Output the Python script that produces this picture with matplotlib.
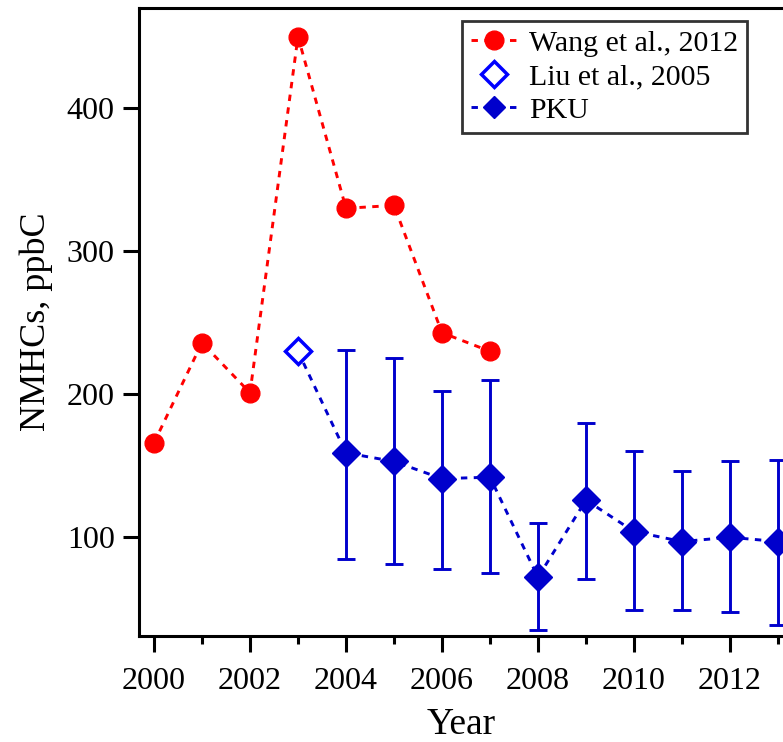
import matplotlib
matplotlib.use("Agg")
import matplotlib.pyplot as plt
from matplotlib.ticker import MultipleLocator

# Wang et al., 2012
wang_years = [2000, 2001, 2002, 2003, 2004, 2005, 2006, 2007]
wang_vals = [166, 236, 201, 450, 330, 332, 243, 230]

# Liu et al., 2005
liu_years = [2003]
liu_vals = [230]

# PKU, con barras de error (min / max)
pku_years = [2004, 2005, 2006, 2007, 2008, 2009, 2010, 2011, 2012, 2013]
pku_vals = [159, 153, 141, 142, 72, 126, 104, 97, 100, 97]
pku_top = [231, 225, 202, 210, 110, 180, 160, 146, 153, 154]
pku_bot = [85, 81, 78, 75, 35, 71, 49, 49, 48, 39]

RED = "#ff0000"
BLUE_OPEN = "#0000ff"
BLUE = "#0000cc"

plt.rcParams["font.family"] = ["Liberation Serif", "DejaVu Serif"]

fig = plt.figure(figsize=(7.83, 7.42), dpi=100)
ax = fig.add_axes([0.1775, 0.1429, 0.8225, 0.8463])

dash = (0, (2.2, 2.2))

ax.plot(wang_years, wang_vals, color=RED, linestyle=dash, linewidth=2.1,
        marker="o", markersize=13.5, label="Wang et al., 2012")

# linea PKU arranca en el punto de Liu
ax.plot(liu_years + pku_years, liu_vals + pku_vals, color=BLUE,
        linestyle=dash, linewidth=2.1)

ax.plot(liu_years, liu_vals, linestyle="none", marker="D", markersize=13,
        markerfacecolor="white", markeredgecolor=BLUE_OPEN,
        markeredgewidth=2.5, label="Liu et al., 2005")

err_lo = [v - b for v, b in zip(pku_vals, pku_bot)]
err_hi = [t - v for v, t in zip(pku_vals, pku_top)]
ax.errorbar(pku_years, pku_vals, yerr=[err_lo, err_hi], fmt="none",
            ecolor=BLUE, elinewidth=2.1, capsize=6.5, capthick=2.1)
ax.plot(pku_years, pku_vals, color=BLUE, linestyle="none", marker="D",
        markersize=14)
# handle de leyenda para PKU
ax.plot([], [], color=BLUE, linestyle=dash, linewidth=2.1, marker="D",
        markersize=11, label="PKU")

ax.set_xlim(1999.6875, 2013.104)
ax.set_ylim(31, 470)

ax.xaxis.set_major_locator(MultipleLocator(2))
ax.xaxis.set_minor_locator(MultipleLocator(1))
ax.yaxis.set_major_locator(MultipleLocator(100))

ax.tick_params(axis="both", which="major", direction="out", length=11.5,
               width=2.2, labelsize=23)
ax.tick_params(axis="x", which="major", pad=11)
ax.tick_params(axis="y", which="major", pad=6)
ax.tick_params(axis="x", which="minor", direction="out", length=6, width=2.2)

for side in ["left", "bottom", "top"]:
    ax.spines[side].set_linewidth(2.2)
ax.spines["right"].set_visible(False)

ax.set_xlabel("Year", fontsize=27, labelpad=8)
ax.set_ylabel("NMHCs, ppbC", fontsize=26, labelpad=10)

leg = ax.legend(loc="upper right", bbox_to_anchor=(0.968, 1.003),
                fontsize=21.5, frameon=True, fancybox=False, edgecolor="black",
                handlelength=1.5, handletextpad=0.45, borderpad=0.3,
                labelspacing=0.22, numpoints=1)
leg.get_frame().set_linewidth(2)

fig.savefig("out.png", dpi=100)
